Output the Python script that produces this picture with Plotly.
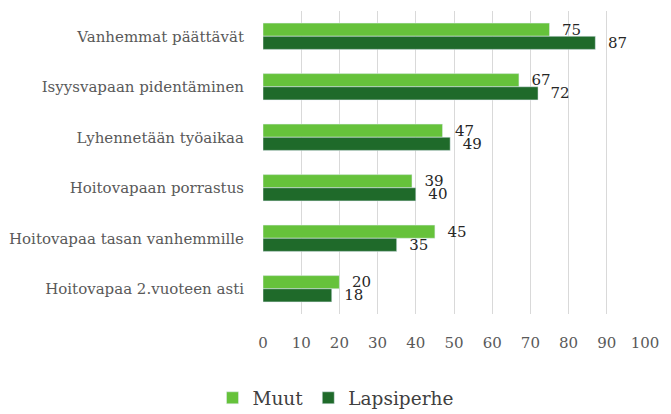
import plotly.graph_objects as go

categories = ["Vanhemmat päättävät", "Isyysvapaan pidentäminen", "Lyhennetään työaikaa",
              "Hoitovapaan porrastus", "Hoitovapaa tasan vanhemmille", "Hoitovapaa 2.vuoteen asti"]
muut = [75, 67, 47, 39, 45, 20]
lapsiperhe = [87, 72, 49, 40, 35, 18]
x_ticks = [0, 10, 20, 30, 40, 50, 60, 70, 80, 90, 100]

FONT = "DejaVu Serif"

fig = go.Figure()
fig.add_trace(go.Bar(name="Muut", y=categories, x=muut, orientation="h",
                     marker_color="#66C23B", text=muut,
                     texttemplate="\u00a0\u00a0%{x}", textposition="outside",
                     constraintext="none", cliponaxis=False,
                     textfont=dict(family=FONT, size=15, color="#262626")))
fig.add_trace(go.Bar(name="Lapsiperhe", y=categories, x=lapsiperhe, orientation="h",
                     marker_color="#1F6A2A", text=lapsiperhe,
                     texttemplate="\u00a0\u00a0%{x}", textposition="outside",
                     constraintext="none", cliponaxis=False,
                     textfont=dict(family=FONT, size=15, color="#262626")))

fig.update_layout(
    width=671, height=414,
    margin=dict(l=263, r=26, t=11, b=100, autoexpand=False),
    paper_bgcolor="white", plot_bgcolor="white",
    barmode="group", bargap=0.48, bargroupgap=0,
    font=dict(family=FONT, color="#595959"),
    legend=dict(orientation="h", x=0.5, xref="container", xanchor="center",
                y=0.038, yref="container", yanchor="middle",
                font=dict(family=FONT, size=18.5, color="#404040"),
                itemwidth=30, traceorder="normal"),
    showlegend=True,
)
fig.update_xaxes(range=[0, 100], tickvals=x_ticks, showgrid=True, gridcolor="#D9D9D9",
                 gridwidth=1, zeroline=False, showline=False, automargin=False,
                 tickfont=dict(family=FONT, size=15, color="#595959"),
                 ticklabelstandoff=18)
fig.update_yaxes(autorange="reversed", showgrid=False, showline=False, zeroline=False,
                 automargin=False,
                 tickfont=dict(family=FONT, size=15, color="#595959"),
                 ticklabelstandoff=18)

fig.write_html("out.html")
